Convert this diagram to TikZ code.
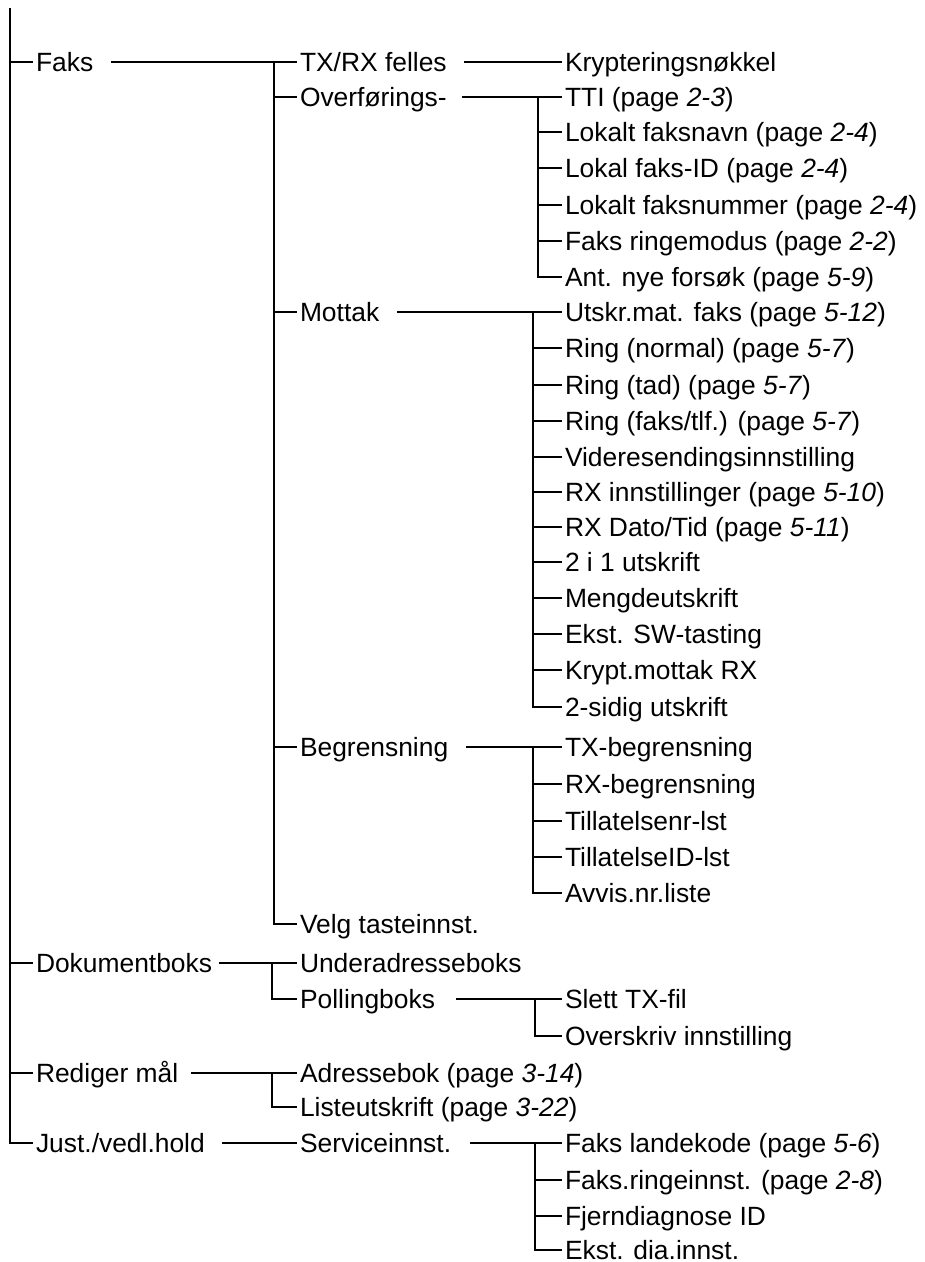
\documentclass[tikz,border=0pt]{standalone}
\usepackage{fontspec}
\setmainfont{Liberation Sans}
\usetikzlibrary{positioning, calc}

\begin{document}
\begin{tikzpicture}[
  x=1pt, y=-1pt,
  item/.style={anchor=west, inner xsep=4pt, inner ysep=0pt, outer sep=0pt,
               text height=19pt, text depth=0pt,
               font=\fontsize{26.4}{30}\selectfont},
  ln/.style={line width=1.8pt, line cap=rect, black}
]
  \useasboundingbox (0,0) rectangle (925,1262);

  % Level 1
  \node[item] (faks) at (32,62)   {Faks};
  \node[item] (dok)  at (32,963)  {Dokumentboks};
  \node[item] (red)  at (32,1073) {Rediger mål};
  \node[item] (just) at (32,1143) {Just./vedl.hold};

  % Level 2
  \node[item] (txrx)     at (296,62)   {TX/RX felles};
  \node[item] (overf)    at (296,97)   {Overførings-};
  \node[item] (mottak)   at (296,312)  {Mottak};
  \node[item] (begr)     at (296,747)  {Begrensning};
  \node[item] (velg)     at (296,924)  {Velg tasteinnst.};
  \node[item] (underadr) at (296,963)  {Underadresseboks};
  \node[item] (polling)  at (296,999)  {Pollingboks};
  \node[item] (adrbok)   at (296,1073) {Adressebok (page \textit{3-14})};
  \node[item] (liste)    at (296,1107) {Listeutskrift (page \textit{3-22})};
  \node[item] (service)  at (296,1143) {Serviceinnst.};

  % Level 3
  \node[item] (krypt)      at (561,62)   {Krypteringsnøkkel};
  \node[item] (tti)        at (561,97)   {TTI (page \textit{2-3})};
  \node[item] (lfnavn)     at (561,132)  {Lokalt faksnavn (page \textit{2-4})};
  \node[item] (lfid)       at (561,168)  {Lokal faks-ID (page \textit{2-4})};
  \node[item] (lfnr)       at (561,205)  {Lokalt faksnummer (page \textit{2-4})};
  \node[item] (ringmod)    at (561,241)  {Faks ringemodus (page \textit{2-2})};
  \node[item] (antfors)    at (561,277)  {Ant. nye forsøk (page \textit{5-9})};
  \node[item] (utskr)      at (561,312)  {Utskr.mat. faks (page \textit{5-12})};
  \node[item] (ringnorm)   at (561,348)  {Ring (normal) (page \textit{5-7})};
  \node[item] (ringtad)    at (561,385)  {Ring (tad) (page \textit{5-7})};
  \node[item] (ringfaks)   at (561,421)  {Ring (faks/tlf.) (page \textit{5-7})};
  \node[item] (videre)     at (561,457)  {Videresendingsinnstilling};
  \node[item] (rxinn)      at (561,492)  {RX innstillinger (page \textit{5-10})};
  \node[item] (rxdato)     at (561,527)  {RX Dato/Tid (page \textit{5-11})};
  \node[item] (toi1)       at (561,562)  {2 i 1 utskrift};
  \node[item] (mengde)     at (561,598)  {Mengdeutskrift};
  \node[item] (ekstsw)     at (561,634)  {Ekst. SW-tasting};
  \node[item] (kryptrx)    at (561,670)  {Krypt.mottak RX};
  \node[item] (tosidig)    at (561,707)  {2-sidig utskrift};
  \node[item] (txbegr)     at (561,747)  {TX-begrensning};
  \node[item] (rxbegr)     at (561,784)  {RX-begrensning};
  \node[item] (tillnr)     at (561,821)  {Tillatelsenr-lst};
  \node[item] (tillid)     at (561,857)  {TillatelseID-lst};
  \node[item] (avvis)      at (561,893)  {Avvis.nr.liste};
  \node[item] (slett)      at (561,999)  {Slett TX-fil};
  \node[item] (overskriv)  at (561,1036) {Overskriv innstilling};
  \node[item] (landekode)  at (561,1143) {Faks landekode (page \textit{5-6})};
  \node[item] (ringeinnst) at (561,1180) {Faks.ringeinnst. (page \textit{2-8})};
  \node[item] (fjern)      at (561,1216) {Fjerndiagnose ID};
  \node[item] (ekstdia)    at (561,1250) {Ekst. dia.innst.};

  % Vertical rails
  \coordinate (root)   at (10,9);
  \coordinate (vfaks)  at (274,0);
  \coordinate (vdok)   at (272,0);
  \coordinate (voverf) at (538,0);
  \coordinate (vmott)  at (533,0);
  \coordinate (vpoll)  at (535,0);

  % Root
  \draw[ln] (root) |- (just.west);
  \foreach \n in {faks,dok,red}
    \draw[ln] (root |- \n.west) -- (\n.west);

  % Faks
  \draw[ln] ([xshift=15pt]faks.east) -- (txrx.west);
  \draw[ln] (vfaks |- txrx.west) |- (velg.west);
  \foreach \n in {overf,mottak,begr}
    \draw[ln] (vfaks |- \n.west) -- (\n.west);
  \draw[ln] ([xshift=14pt]txrx.east) -- (krypt.west);

  % Overførings-
  \draw[ln] ([xshift=12pt]overf.east) -- (tti.west);
  \draw[ln] (voverf |- tti.west) |- (antfors.west);
  \foreach \n in {lfnavn,lfid,lfnr,ringmod}
    \draw[ln] (voverf |- \n.west) -- (\n.west);

  % Mottak
  \draw[ln] ([xshift=15pt]mottak.east) -- (utskr.west);
  \draw[ln] (vmott |- utskr.west) |- (tosidig.west);
  \foreach \n in {ringnorm,ringtad,ringfaks,videre,rxinn,rxdato,toi1,mengde,ekstsw,kryptrx}
    \draw[ln] (vmott |- \n.west) -- (\n.west);

  % Begrensning
  \draw[ln] ([xshift=15pt]begr.east) -- (txbegr.west);
  \draw[ln] (vmott |- txbegr.west) |- (avvis.west);
  \foreach \n in {rxbegr,tillnr,tillid}
    \draw[ln] (vmott |- \n.west) -- (\n.west);

  % Dokumentboks
  \draw[ln] ([xshift=4pt]dok.east) -- (underadr.west);
  \draw[ln] (vdok |- underadr.west) |- (polling.west);
  \draw[ln] ([xshift=18pt]polling.east) -- (slett.west);
  \draw[ln] (vpoll |- slett.west) |- (overskriv.west);

  % Rediger mål
  \draw[ln] ([xshift=10pt]red.east) -- (adrbok.west);
  \draw[ln] (vdok |- adrbok.west) |- (liste.west);

  % Just./vedl.hold
  \draw[ln] ([xshift=14pt]just.east) -- (service.west);
  \draw[ln] ([xshift=16pt]service.east) -- (landekode.west);
  \draw[ln] (vpoll |- landekode.west) |- (ekstdia.west);
  \foreach \n in {ringeinnst,fjern}
    \draw[ln] (vpoll |- \n.west) -- (\n.west);
\end{tikzpicture}
\end{document}
